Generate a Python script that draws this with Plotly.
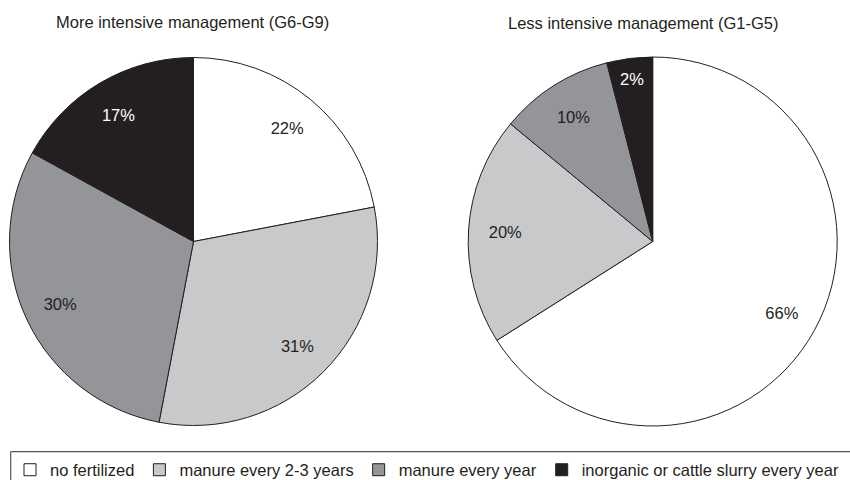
import plotly.graph_objects as go

categories = ["no fertilized", "manure every 2-3 years", "manure every year",
              "inorganic or cattle slurry every year"]
colors = ["#ffffff", "#c8c9cb", "#939598", "#231f20"]
text_colors = ["#231f20", "#231f20", "#231f20", "#ffffff"]

title_more = "More intensive management (G6-G9)"
values_more = [22, 31, 30, 17]
labels_more = ["22%", "31%", "30%", "17%"]

title_less = "Less intensive management (G1-G5)"
values_less = [66, 20, 10, 4]
labels_less = ["66%", "20%", "10%", "2%"]

FONT = "Liberation Sans, Arial, sans-serif"
INK = "#231f20"
W, H = 850, 480
FS = 16.5

def dom(cx, cy, r):
    return dict(x=[(cx - r) / W, (cx + r) / W], y=[1 - (cy + r) / H, 1 - (cy - r) / H])

fig = go.Figure()
for vals, labs, d in [(values_more, labels_more, dom(193.5, 241.5, 184)),
                      (values_less, labels_less, dom(652.7, 241.5, 184.5))]:
    fig.add_trace(go.Pie(
        labels=categories, values=vals, domain=d, sort=False, direction="clockwise",
        rotation=0, marker=dict(colors=colors, line=dict(color=INK, width=1)),
        textinfo="none", hoverinfo="label+percent", showlegend=True,
    ))
    fig.add_trace(go.Pie(
        labels=categories, values=vals, domain=d, sort=False, direction="clockwise",
        rotation=0, hole=0.6, text=labs, textinfo="text", textposition="inside",
        insidetextorientation="horizontal",
        textfont=dict(family=FONT, size=FS, color=text_colors),
        marker=dict(colors=["rgba(0,0,0,0)"] * 4, line=dict(width=0)),
        hoverinfo="skip", showlegend=False,
    ))

fig.add_annotation(text=title_more, x=192.7 / W, y=1 - 21.5 / H, xref="paper", yref="paper",
                   showarrow=False, xanchor="center", yanchor="middle",
                   font=dict(family=FONT, size=FS, color=INK))
fig.add_annotation(text=title_less, x=643 / W, y=1 - 22.5 / H, xref="paper", yref="paper",
                   showarrow=False, xanchor="center", yanchor="middle",
                   font=dict(family=FONT, size=FS, color=INK))

# legend frame (top and left edges visible in the reference)
fig.add_shape(type="line", xref="paper", yref="paper", x0=10.7 / W, x1=1, y0=1 - 451.7 / H,
              y1=1 - 451.7 / H, line=dict(color="#555555", width=1.2))
fig.add_shape(type="line", xref="paper", yref="paper", x0=10.7 / W, x1=10.7 / W, y0=0,
              y1=1 - 451.7 / H, line=dict(color="#555555", width=1.2))

fig.update_layout(
    width=W, height=H,
    margin=dict(l=0, r=0, t=0, b=0, autoexpand=False),
    paper_bgcolor="white", plot_bgcolor="white",
    font=dict(family=FONT, size=FS, color=INK),
    legend=dict(orientation="h", x=10 / W, xanchor="left", y=1 - 470 / H, yanchor="middle",
                font=dict(family=FONT, size=FS, color=INK), bgcolor="rgba(0,0,0,0)",
                borderwidth=0, traceorder="normal"),
)

fig.write_html("out.html", config={"displayModeBar": False},
               post_script="document.body.style.margin='0';")
